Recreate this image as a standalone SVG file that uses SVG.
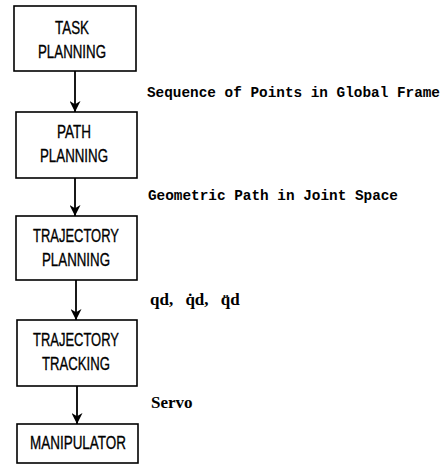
<svg xmlns="http://www.w3.org/2000/svg" width="445" height="466" viewBox="0 0 445 466">
<style>
.box{fill:#fff;stroke:#000;stroke-width:1.6}
.bt{font-family:"Liberation Sans",Arial,sans-serif;font-size:19px;fill:#000;stroke:#000;stroke-width:0.35;text-anchor:middle}
.lbl{font-family:"Liberation Mono","Courier New",monospace;font-size:14.3px;font-weight:bold;fill:#000}
.ser{font-family:"Liberation Serif","Times New Roman",serif;font-size:17px;font-weight:bold;fill:#000}
.con{stroke:#000;stroke-width:1.8;fill:none;marker-end:url(#ah)}
</style>
<defs>
<marker id="ah" markerWidth="11" markerHeight="11" refX="10" refY="5" orient="auto" markerUnits="userSpaceOnUse" viewBox="0 0 10 10">
<path d="M0,0 L10,5 L0,10 L3,5 Z" fill="#000"/>
</marker>
</defs>
<rect width="445" height="466" fill="#fff"/>
<g id="connectors">
<line class="con" x1="75" y1="71" x2="75" y2="112"/>
<line class="con" x1="75" y1="178" x2="75" y2="216"/>
<line class="con" x1="76" y1="280" x2="76" y2="320"/>
<line class="con" x1="77" y1="386" x2="77" y2="424"/>
</g>
<g id="task-planning">
<rect class="box" x="14" y="6" width="122" height="65"/>
<text class="bt" x="72" y="34" textLength="34" lengthAdjust="spacingAndGlyphs">TASK</text>
<text class="bt" x="72" y="58" textLength="68" lengthAdjust="spacingAndGlyphs">PLANNING</text>
</g>
<g id="path-planning">
<rect class="box" x="16" y="112" width="121" height="66"/>
<text class="bt" x="74" y="138" textLength="34" lengthAdjust="spacingAndGlyphs">PATH</text>
<text class="bt" x="74" y="162" textLength="68" lengthAdjust="spacingAndGlyphs">PLANNING</text>
</g>
<g id="trajectory-planning">
<rect class="box" x="16" y="216" width="121" height="64"/>
<text class="bt" x="76" y="242" textLength="86" lengthAdjust="spacingAndGlyphs">TRAJECTORY</text>
<text class="bt" x="76" y="266" textLength="68" lengthAdjust="spacingAndGlyphs">PLANNING</text>
</g>
<g id="trajectory-tracking">
<rect class="box" x="17" y="320" width="120" height="66"/>
<text class="bt" x="76" y="346" textLength="86" lengthAdjust="spacingAndGlyphs">TRAJECTORY</text>
<text class="bt" x="76" y="370" textLength="68" lengthAdjust="spacingAndGlyphs">TRACKING</text>
</g>
<g id="manipulator">
<rect class="box" x="17" y="424" width="121" height="39"/>
<text class="bt" x="78" y="449" textLength="96" lengthAdjust="spacingAndGlyphs">MANIPULATOR</text>
</g>
<g id="labels">
<text class="lbl" x="147" y="97" textLength="293" lengthAdjust="spacingAndGlyphs">Sequence of Points in Global Frame</text>
<text class="lbl" x="148" y="200" textLength="250" lengthAdjust="spacingAndGlyphs">Geometric Path in Joint Space</text>
<text class="ser" x="150" y="305" word-spacing="8">qd, q̇d, q̈d</text>
<text class="ser" x="151" y="408">Servo</text>
</g>
</svg>
